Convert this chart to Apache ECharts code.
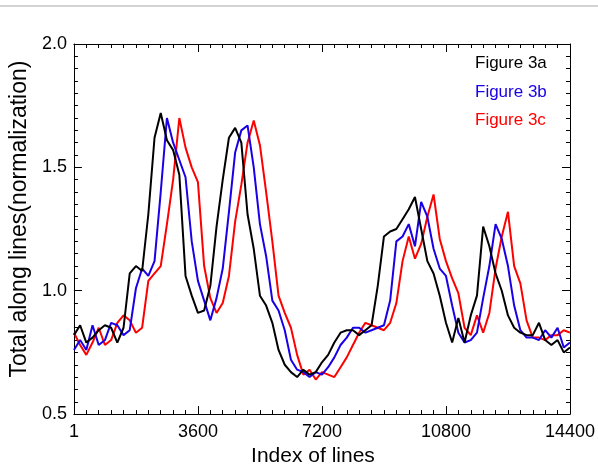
<!DOCTYPE html>
<html>
<head>
<meta charset="utf-8">
<script src="https://cdn.jsdelivr.net/npm/echarts@6/dist/echarts.min.js"></script>
<style>
html, body { margin: 0; padding: 0; background: #fff; }
#chart { width: 598px; height: 472px; }
</style>
</head>
<body>
<div id="chart"></div>
<script>
// sampled line index (x)
const lineIndex = [1, 180, 360, 540, 720, 900, 1080, 1260, 1440, 1620, 1800, 1980, 2160, 2340, 2520, 2700,
  2880, 3060, 3240, 3420, 3600, 3780, 3960, 4140, 4320, 4500, 4680, 4860, 5040, 5220, 5400, 5580, 5760,
  5940, 6120, 6300, 6480, 6660, 6840, 7020, 7200, 7380, 7560, 7740, 7920, 8100, 8280, 8460, 8640, 8820,
  9000, 9180, 9360, 9540, 9720, 9900, 10080, 10260, 10440, 10620, 10800, 10980, 11160, 11340, 11520,
  11700, 11880, 12060, 12240, 12420, 12600, 12780, 12960, 13140, 13320, 13500, 13680, 13860, 14040,
  14220, 14400];

const fig3a = [0.82, 0.86, 0.79, 0.81, 0.84, 0.86, 0.85, 0.79, 0.85, 1.07, 1.10, 1.08, 1.31, 1.62, 1.72, 1.61,
  1.57, 1.47, 1.06, 0.98, 0.91, 0.92, 1.02, 1.26, 1.45, 1.62, 1.66, 1.60, 1.31, 1.17, 0.98, 0.94, 0.87,
  0.76, 0.70, 0.67, 0.65, 0.68, 0.66, 0.67, 0.71, 0.74, 0.79, 0.83, 0.84, 0.84, 0.82, 0.84, 0.86, 1.02,
  1.22, 1.24, 1.25, 1.29, 1.33, 1.38, 1.25, 1.12, 1.07, 0.98, 0.87, 0.79, 0.89, 0.79, 0.90, 0.98, 1.26,
  1.18, 1.07, 1.00, 0.90, 0.85, 0.83, 0.82, 0.82, 0.87, 0.80, 0.78, 0.80, 0.75, 0.77];

const fig3b = [0.76, 0.80, 0.76, 0.86, 0.78, 0.80, 0.87, 0.86, 0.82, 0.84, 1.01, 1.09, 1.06, 1.12, 1.40, 1.70,
  1.60, 1.53, 1.46, 1.20, 1.04, 0.96, 0.88, 0.97, 1.09, 1.32, 1.56, 1.65, 1.67, 1.50, 1.27, 1.14, 0.96,
  0.92, 0.84, 0.72, 0.68, 0.67, 0.65, 0.67, 0.66, 0.69, 0.73, 0.78, 0.81, 0.85, 0.85, 0.83, 0.84, 0.85,
  0.86, 0.96, 1.20, 1.22, 1.27, 1.18, 1.36, 1.30, 1.17, 1.09, 1.06, 0.94, 0.83, 0.79, 0.80, 0.83, 0.97,
  1.10, 1.27, 1.21, 1.10, 0.94, 0.84, 0.81, 0.81, 0.80, 0.84, 0.81, 0.85, 0.77, 0.79];

const fig3c = [0.83, 0.78, 0.74, 0.79, 0.85, 0.78, 0.80, 0.87, 0.90, 0.88, 0.83, 0.85, 1.04, 1.07, 1.10, 1.27,
  1.45, 1.70, 1.58, 1.50, 1.44, 1.10, 0.97, 0.91, 0.95, 1.06, 1.28, 1.43, 1.60, 1.69, 1.59, 1.40, 1.20,
  0.98, 0.91, 0.85, 0.74, 0.66, 0.68, 0.64, 0.67, 0.66, 0.65, 0.69, 0.73, 0.78, 0.83, 0.87, 0.86, 0.85,
  0.84, 0.87, 0.95, 1.12, 1.22, 1.13, 1.19, 1.30, 1.39, 1.21, 1.12, 1.05, 0.99, 0.85, 0.82, 0.90, 0.83,
  0.91, 1.09, 1.22, 1.32, 1.10, 1.03, 0.88, 0.81, 0.81, 0.80, 0.82, 0.82, 0.84, 0.83];

const xTickLabels = ['1', '3600', '7200', '10800', '14400'];
const seriesNames = ['Figure 3a', 'Figure 3b', 'Figure 3c'];
const seriesColors = ['#000000', '#1a00e6', '#ff0000'];

const FONT = 'Liberation Sans, Arial, Helvetica, sans-serif';

function pairs(vals) {
  return lineIndex.map((x, i) => [x, vals[i]]);
}

// fresh copy for each axis
function ticks() {
  return {
    axisLine: { show: true, onZero: false, lineStyle: { color: '#000', width: 1 } },
    axisTick: { show: true, inside: true, length: 8, lineStyle: { color: '#000', width: 1 } },
    minorTick: { show: true, splitNumber: 10, length: 4, lineStyle: { color: '#000', width: 1 } },
    splitLine: { show: false },
    minorSplitLine: { show: false }
  };
}

const myChart = echarts.init(document.getElementById('chart'));
const option = {
  animation: false,
  backgroundColor: '#fff',
  grid: { left: 66, right: 27, top: 44, bottom: 51 },
  xAxis: [
    Object.assign(ticks(), {
      type: 'value', min: 0, max: 14400, interval: 3600,
      name: 'Index of lines', nameLocation: 'middle', nameGap: 28,
      nameTextStyle: { fontFamily: FONT, fontSize: 21, color: '#000', padding: [0, 18, 0, 0] },
      axisLabel: {
        margin: 9, fontFamily: FONT, fontSize: 18, color: '#000',
        formatter: v => xTickLabels[Math.round(v / 3600)]
      }
    }),
    Object.assign(ticks(), {
      type: 'value', min: 0, max: 14400, interval: 3600, position: 'top',
      axisLabel: { show: false }
    })
  ],
  yAxis: [
    Object.assign(ticks(), {
      type: 'value', min: 0.5, max: 2.0, interval: 0.5,
      name: 'Total along lines(normalization)', nameLocation: 'middle', nameGap: 34, nameRotate: 90,
      nameTextStyle: { fontFamily: FONT, fontSize: 23, color: '#000', padding: [0, 0, 0, 20] },
      axisLabel: {
        margin: 7, fontFamily: FONT, fontSize: 18, color: '#000',
        formatter: v => v.toFixed(1)
      }
    }),
    Object.assign(ticks(), {
      type: 'value', min: 0.5, max: 2.0, interval: 0.5, position: 'right',
      axisLabel: { show: false }
    })
  ],
  graphic: [
    {
      type: 'line', silent: true,
      shape: { x1: 0, y1: 6, x2: 598, y2: 6 },
      style: { stroke: '#c4c4c4', lineWidth: 1.5 }
    }
  ].concat(seriesNames.map((n, i) => ({
    type: 'text', left: 475, top: 55 + i * 28.5,
    style: { text: n, fill: seriesColors[i], font: '17px ' + FONT }
  }))),
  series: [fig3a, fig3b, fig3c].map((vals, i) => ({
    name: seriesNames[i],
    type: 'line',
    xAxisIndex: 0,
    yAxisIndex: 0,
    data: pairs(vals),
    showSymbol: false,
    symbol: 'none',
    lineStyle: { color: seriesColors[i], width: 2 },
    z: 3 - i
  }))
};
option && myChart.setOption(option);
</script>
</body>
</html>
